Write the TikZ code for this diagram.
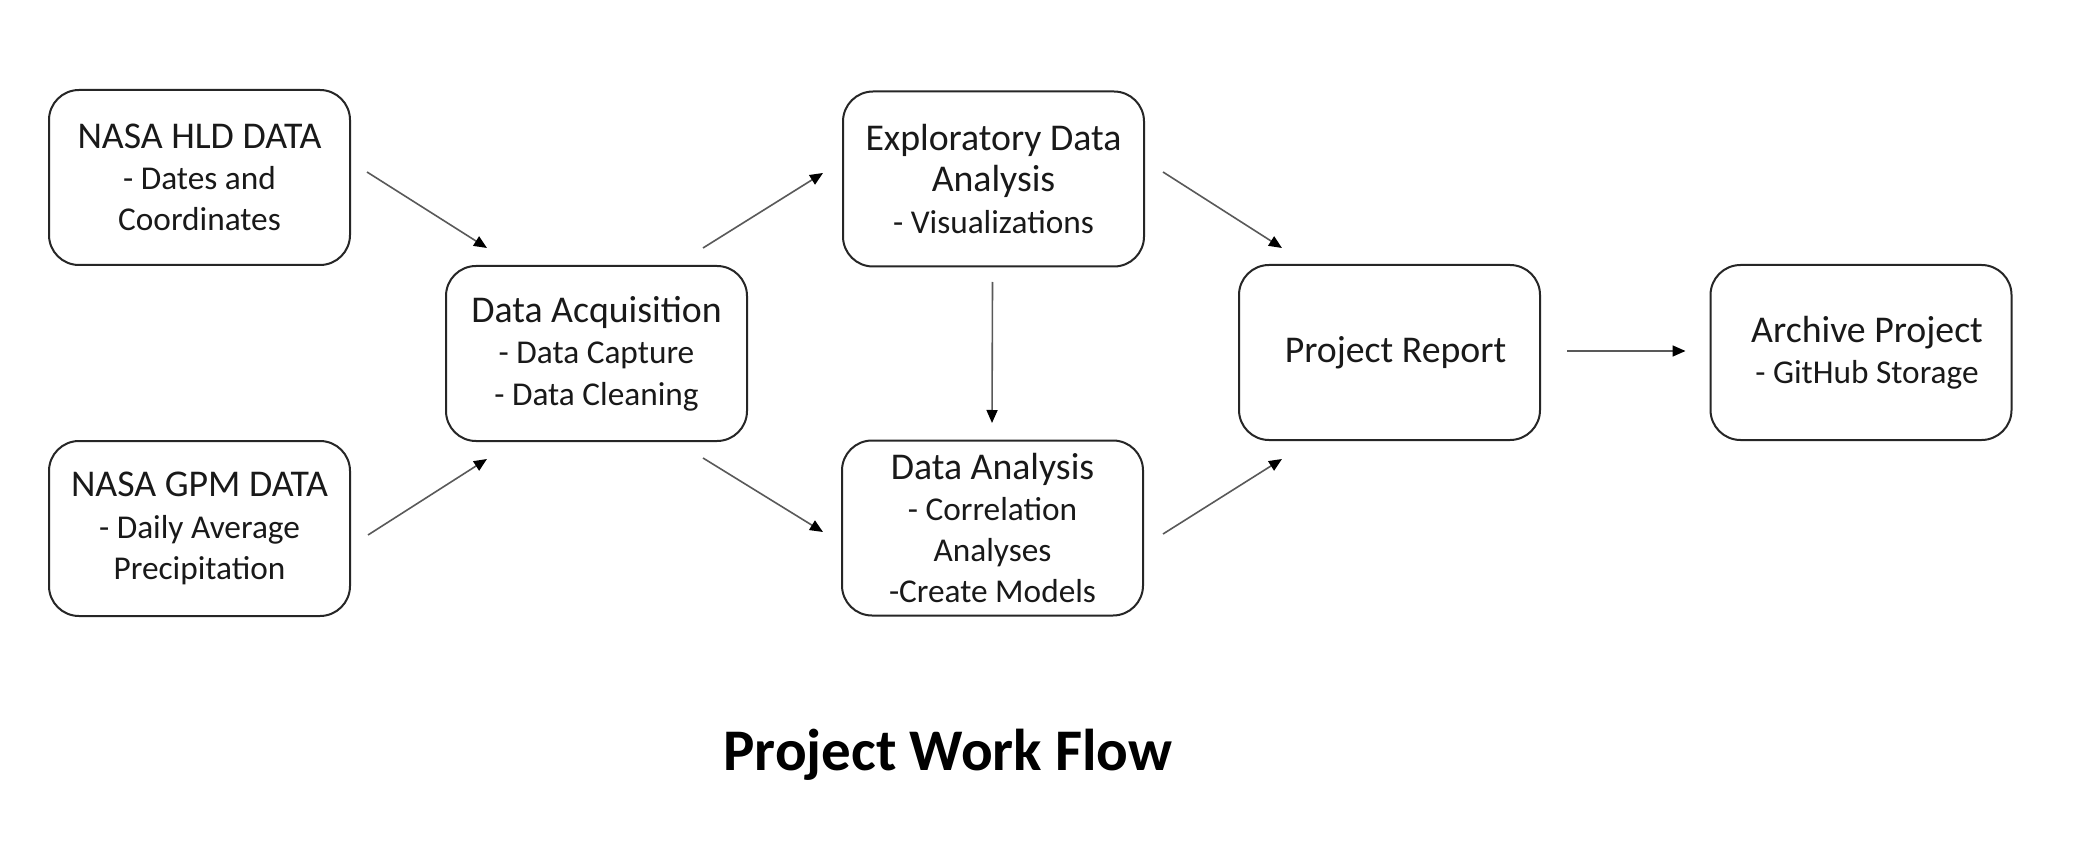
\documentclass[tikz,border=0pt]{standalone}
\usepackage{fontspec}
\setmainfont{Carlito}
\usetikzlibrary{arrows.meta}
\newcommand\itemsz{\fontsize{33.3}{41.3}\selectfont}
\begin{document}
\begin{tikzpicture}[x=1pt,y=-1pt,
  box/.style={draw=black!85, line width=2pt, rounded corners=30pt,
    minimum width=301pt, minimum height=175pt, align=center, inner sep=0pt,
    font=\fontsize{37.8}{41.3}\selectfont, text=black!90},
  flow/.style={draw=black!65, line width=1.6pt,
    -{Triangle[length=13pt,width=11pt,color=black]}}]
\useasboundingbox[fill=white] (0,0) rectangle (2076,858);

\node[box] (hld) at (199.5,177.5) {NASA HLD DATA\\\itemsz- Dates and\\\itemsz Coordinates};
\node[box] (gpm) at (199.5,528.5) {NASA GPM DATA\\\itemsz- Daily Average\\\itemsz Precipitation};
\node[box] (da)  at (596.5,353.5) {Data Acquisition\\\itemsz- Data Capture\\\itemsz- Data Cleaning};
\node[box] (eda) at (993.5,179)   {Exploratory Data\\Analysis\\\itemsz- Visualizations};
\node[box] (dan) at (992.5,528)   {Data Analysis\\\itemsz- Correlation\\\itemsz Analyses\\\itemsz-Create Models};
\node[box] (rep) at (1389.5,352.5){\hspace*{12pt}Project Report};
\node[box] (arc) at (1861,352.5)  {\hspace*{12pt}Archive Project\\\itemsz\hspace*{12pt}- GitHub Storage};

\node[font=\fontsize{59}{70}\selectfont\bfseries, text=black, inner sep=0pt] (title) at (948,755) {Project Work Flow};

\draw[flow] ([shift={(16,-5.5)}]hld.east) -- ([shift={(-109.5,-17)}]da.north);
\draw[flow] ([shift={(17,6.5)}]gpm.east) -- ([shift={(-109.5,17)}]da.south);
\draw[flow] ([shift={(106.5,-17)}]da.north) -- ([shift={(-19,-6)}]eda.west);
\draw[flow] ([shift={(106.5,16)}]da.south) -- ([shift={(-18,4)}]dan.west);
\draw[flow] ([shift={(-1,14.5)}]eda.south) -- ([shift={(-0.5,-16.5)}]dan.north);
\draw[flow] ([shift={(18,-7)}]eda.east) -- ([shift={(-107.5,-16)}]rep.north);
\draw[flow] ([shift={(19,6)}]dan.east) -- ([shift={(-107.5,18)}]rep.south);
\draw[flow] ([shift={(26,-1.5)}]rep.east) -- ([shift={(-24,-1.5)}]arc.west);
\end{tikzpicture}
\end{document}
